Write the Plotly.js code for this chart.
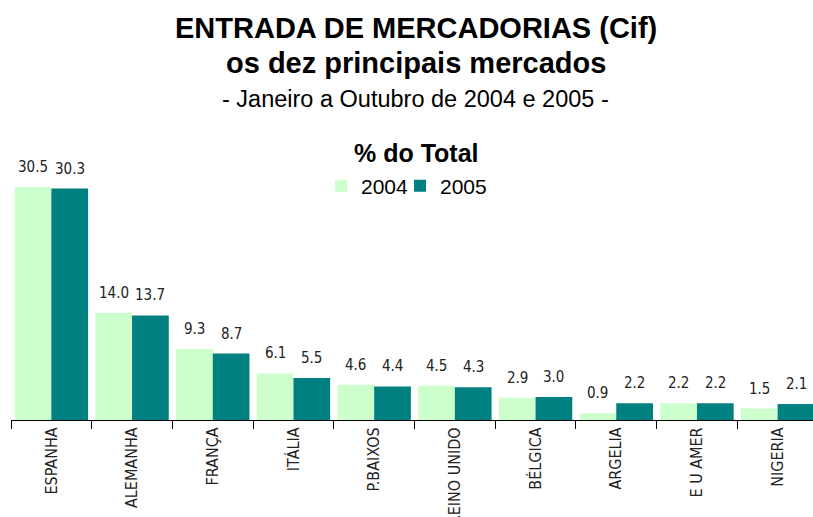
<!DOCTYPE html>
<html>
<head>
<meta charset="utf-8">
<script src="https://cdn.plot.ly/plotly-3.0.1.min.js"></script>
<style>html,body{margin:0;padding:0;background:#fff;}#chart{width:813px;height:517px;}</style>
</head>
<body>
<div id="chart"></div>
<script>
const categories = ['ESPANHA','ALEMANHA','FRANÇA','ITÁLIA','P.BAIXOS','REINO UNIDO','BÉLGICA','ARGELIA','E U AMER','NIGERIA'];
const values2004 = [30.5, 14.0, 9.3, 6.1, 4.6, 4.5, 2.9, 0.9, 2.2, 1.5];
const values2005 = [30.3, 13.7, 8.7, 5.5, 4.4, 4.3, 3.0, 2.2, 2.2, 2.1];
const seriesNames = ['2004', '2005'];

const narrow = '"Liberation Sans Narrow", "Arial Narrow", "DejaVu Sans Condensed", sans-serif';
const arial = 'Arial, "Liberation Sans", sans-serif';

const traces = [
  {type: 'bar', name: seriesNames[0], x: categories, y: values2004,
   marker: {color: '#CCFFCC'}, hoverinfo: 'x+y', legend: 'legend'},
  {type: 'bar', name: seriesNames[1], x: categories, y: values2005,
   marker: {color: '#008080'}, hoverinfo: 'x+y', legend: 'legend2'}
];

const annotations = [];
const halfBar = 80.7 * (1 - 0.09) / 4;
[values2004, values2005].forEach((vals, s) => {
  vals.forEach((v, i) => {
    annotations.push({
      x: categories[i], y: v, xref: 'x', yref: 'y',
      text: v.toFixed(1), showarrow: false,
      xshift: s === 0 ? -halfBar : halfBar, yshift: 20,
      yanchor: 'middle', xanchor: 'center',
      font: {family: narrow, size: 15, color: '#222'}
    });
  });
});

annotations.push(
  {xref: 'paper', yref: 'paper', x: 0.505, y: 1 - 28/420, text: '<b>ENTRADA DE MERCADORIAS (Cif)</b>',
   showarrow: false, xanchor: 'center', yanchor: 'middle', font: {family: arial, size: 29, color: '#000'}},
  {xref: 'paper', yref: 'paper', x: 0.505, y: 1 - 63/420, text: '<b>os dez principais mercados</b>',
   showarrow: false, xanchor: 'center', yanchor: 'middle', font: {family: arial, size: 29, color: '#000'}},
  {xref: 'paper', yref: 'paper', x: 0.504, y: 1 - 99/420, text: '- Janeiro a Outubro de 2004 e 2005 -',
   showarrow: false, xanchor: 'center', yanchor: 'middle', font: {family: arial, size: 23.5, color: '#000'}},
  {xref: 'paper', yref: 'paper', x: 0.505, y: 1 - 153/420, text: '<b>% do Total</b>',
   showarrow: false, xanchor: 'center', yanchor: 'middle', font: {family: arial, size: 25, color: '#000'}}
);

const legendBase = {orientation: 'h', y: 1 - 186/420, yanchor: 'middle', xanchor: 'left',
                    font: {family: arial, size: 21, color: '#000'}, itemwidth: 30,
                    bgcolor: 'rgba(0,0,0,0)', borderwidth: 0};

const layout = {
  width: 813, height: 517,
  margin: {l: 11, r: 0, t: 0, b: 97},
  paper_bgcolor: '#fff', plot_bgcolor: '#fff',
  barmode: 'group', bargap: 0.09, bargroupgap: 0,
  showlegend: true,
  legend: Object.assign({}, legendBase, {x: (321 - 11) / 802}),
  legend2: Object.assign({}, legendBase, {x: (400 - 11) / 802}),
  xaxis: {
    type: 'category', range: [-0.5, 9.438], fixedrange: true,
    showline: true, linecolor: '#000', linewidth: 1,
    ticks: 'outside', tickson: 'boundaries', ticklen: 8, tickcolor: '#000', tickwidth: 1,
    tickangle: -90, showgrid: false, zeroline: false, automargin: false,
    tickfont: {family: narrow, size: 16, color: '#222'}
  },
  yaxis: {range: [0, 55], visible: false, showgrid: false, zeroline: false, fixedrange: true},
  annotations: annotations
};

Plotly.newPlot('chart', traces, layout, {displayModeBar: false, staticPlot: true});
</script>
</body>
</html>
